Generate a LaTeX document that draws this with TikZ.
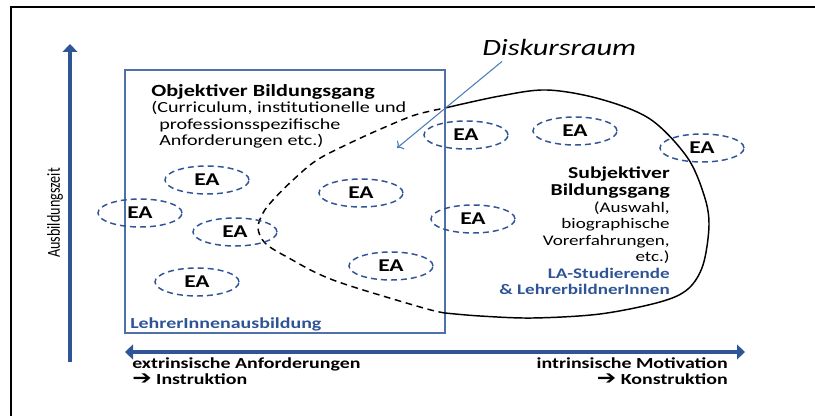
\documentclass[tikz,border=0pt]{standalone}
\usepackage{fontspec}
\usepackage{graphicx}
\setmainfont{Carlito}[FakeStretch=1.3]
\newfontfamily\plainfont{Carlito}
\newfontfamily\arrowfont{DejaVu Sans}[FakeStretch=1.2]
\usetikzlibrary{arrows.meta,shapes.geometric,calc}

\definecolor{axisblue}{RGB}{47,85,151}
\definecolor{boxblue}{RGB}{79,113,168}
\definecolor{pointblue}{RGB}{74,126,187}
\definecolor{textblue}{RGB}{47,84,150}

\newcommand{\thickarr}{{\arrowfont\bfseries\fontsize{14.5}{12}\selectfont ➔}}

\begin{document}
\begin{tikzpicture}[x=0.75pt,y=-0.75pt,
  frameline/.style={black, line width=2.2pt},
  axis/.style={axisblue, line width=2.6pt},
  axistip/.tip={Triangle[length=6pt,width=11pt]},
  ea/.style={ellipse, draw=axisblue, line width=1.1pt, dash pattern=on 4.5pt off 3pt,
    minimum width=63pt, minimum height=21pt, inner sep=0pt,
    font=\fontsize{13.5}{13.5}\selectfont\bfseries},
  bold/.style={inner sep=0pt, font=\fontsize{11.5}{12.6}\selectfont\bfseries},
  body/.style={inner sep=0pt, font=\fontsize{11}{12.4}\selectfont}
]
\useasboundingbox (0,0) rectangle (815,416);

% Frame (cut at the right and bottom)
\draw[frameline] (11,416) -- (11,7) -- (815,7);

% Axes
\draw[axis, -axistip] (70,362) -- (70,44);
\draw[axis, axistip-axistip] (125,352) -- (745,352);
\node (zeit) [rotate=90, inner sep=0pt] at (55,213)
  {\scalebox{1}[1.3]{\plainfont\fontsize{10.6}{12}\selectfont Ausbildungszeit}};

% Box of the objective side
\draw[boxblue, line width=1.5pt] (125,70) rectangle (445,333);
\node (ausb) [bold, anchor=base west, text=textblue] at (130,329) {LehrerInnenausbildung};

% Discourse space: solid outside the box, dashed inside
\draw[black, line width=1.1pt] plot[smooth, tension=0.55] coordinates
  {(445,108) (500,96) (547,90) (600,99) (650,119) (687,157) (704,195) (709,225)
   (703,265) (688,289) (660,302) (600,314) (533,318) (480,316) (445,313)};
\draw[black, line width=1.1pt, dash pattern=on 5pt off 3.5pt] plot[smooth, tension=0.55] coordinates
  {(445,313) (420,307) (333,280) (287,257) (265,243) (258,228) (263,213) (273,200)
   (293,180) (317,160) (350,143) (383,128) (415,115) (445,108)};

% Labels
\node (disk) [inner sep=0pt, anchor=base west, font=\fontsize{17.5}{17.5}\selectfont\itshape]
  at (482,56) {Diskursraum};
\coordinate (dtip) at (397,148);
\draw[pointblue, line width=0.8pt, -{To[length=4pt]}] ($(disk.south west)+(20,5)$) -- (dtip);

\node (obj) [body, anchor=north west, align=left, font=\fontsize{11.6}{12.3}\selectfont]
  at (151,84)
  {{\fontsize{12.8}{12.8}\selectfont\bfseries Objektiver Bildungsgang}\\
   (Curriculum, institutionelle und\\
   \hspace*{6pt}professionsspezifische\\
   \hspace*{6pt}Anforderungen etc.)};

\node (subj) [body, anchor=north east, align=right] at (670,167)
  {{\fontsize{12.5}{12.5}\selectfont\bfseries Subjektiver}\\
   {\fontsize{12.5}{12.5}\selectfont\bfseries Bildungsgang}\\
   (Auswahl,\\
   biographische\\
   Vorerfahrungen,\\
   etc.)\\
   {\bfseries\color{textblue}LA-Studierende}\\
   {\bfseries\color{textblue}\& LehrerbildnerInnen}};

% Poles of the horizontal axis
\node (extr) [bold, anchor=north west, align=left] at (132,357)
  {extrinsische Anforderungen\\ \thickarr\ Instruktion};
\node (intr) [bold, anchor=north east, align=right] at (728,357)
  {intrinsische Motivation\\ \thickarr\ Konstruktion};

% EA ellipses
\foreach \n/\x/\y in {1/207/180, 2/140/213, 3/235/232, 4/197/282, 5/361/193,
                      6/391/266, 7/466/135, 8/575/131, 9/702/148, 10/473/219}
  \node (ea\n) [ea] at (\x,\y) {EA};
\end{tikzpicture}
\end{document}
